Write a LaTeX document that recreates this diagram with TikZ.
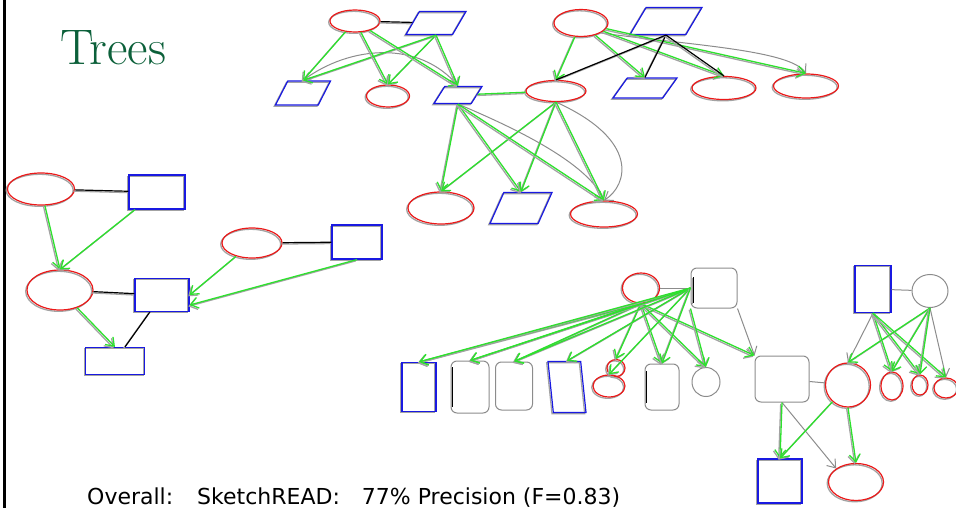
\documentclass[tikz,border=0pt]{standalone}
\usepackage{fontspec}
\usepackage{tikz}
\usetikzlibrary{shapes.geometric, arrows.meta}
\newfontfamily\notefont{DejaVu Sans}
\definecolor{titlegreen}{RGB}{12,96,58}
\definecolor{penred}{RGB}{235,25,25}
\definecolor{penblue}{RGB}{25,25,225}
\definecolor{pengreen}{RGB}{45,225,45}
\definecolor{pengray}{RGB}{140,140,140}

\tikzset{
  sketch/.style={preaction={draw=pengray!80, line width=1.3pt, transform canvas={shift={(-1.3pt,-1.3pt)}}}},
  sz/.style 2 args={minimum width=#1pt, minimum height=#2pt},
  female/.style={ellipse, draw=penred, line width=1.2pt, inner sep=0pt, sketch},
  male/.style={rectangle, draw=penblue, line width=1.2pt, inner sep=0pt, sketch},
  malepar/.style={trapezium, trapezium left angle=68, trapezium right angle=112, trapezium stretches=true, draw=penblue, line width=1.2pt, inner sep=2pt, sketch},
  unknown/.style={rectangle, rounded corners=6pt, draw=pengray, line width=1pt, inner sep=0pt},
  unknownround/.style={ellipse, draw=pengray, line width=1pt, inner sep=0pt},
  child/.style={->, draw=pengreen, line width=1.3pt, sketch},
  spouse/.style={draw=black, line width=1.2pt, sketch},
  stroke/.style={draw=pengray, line width=1pt},
}

\begin{document}
\begin{tikzpicture}[x=1pt, y=-1pt, >={Straight Barb[length=7.5pt, width=11pt]}]
  \useasboundingbox (0,0) rectangle (956,508);
  \draw[line width=3pt] (4.5,0) -- (4.5,508);
  \node[anchor=base west, font=\fontsize{50}{56}\selectfont, text=titlegreen, inner sep=0pt] (title) at (60,65) {Trees};

  % top left family
  \node[female, sz={50}{22}] (g1a) at (355,21) {};
  \node[malepar, sz={60}{23}] (g1b) at (436,23) {};
  \node[malepar, sz={55}{24}] (g1c) at (303,93) {};
  \node[female, sz={43}{22}] (g1d) at (388,96) {};
  \node[malepar, sz={48}{17}] (g1e) at (458,95) {};
  % top right family
  \node[female, sz={54}{27}] (g2a) at (581,23) {};
  \node[malepar, sz={72}{27}] (g2b) at (666,21) {};
  \node[female, sz={60}{21}] (g2f) at (556,91) {};
  \node[malepar, sz={64}{20}] (g2c) at (645,88) {};
  \node[female, sz={64}{23}] (g2d) at (724,88) {};
  \node[female, sz={65}{24}] (g2e) at (806,86) {};
  % their children
  \node[female, sz={66}{32}] (g1l) at (441,208) {};
  \node[malepar, sz={62}{31}] (g1m) at (521,208) {};
  \node[female, sz={67}{26}] (g1n) at (604,214) {};

  \draw[stroke] (g1c.north) .. controls (350,45) and (420,40) .. (g1e.north);
  \draw[stroke, ->] (g2a.south east) .. controls (690,45) and (790,50) .. (g2e.north);
  \draw[stroke, ->] (g2f.south) .. controls (640,140) and (628,185) .. (g1n.north);
  \draw[stroke] (g1e.south) .. controls (520,130) and (590,165) .. (g1n.north);

  \draw[spouse] (g1a) -- (g1b);
  \foreach \k in {g1c,g1d,g1e} {
    \draw[child] (g1a) -- (\k.north);
    \draw[child] (g1b.south) -- (\k.north);
  }
  \draw[child, -] (g1e) -- (g2f);
  \foreach \k in {g2f,g2c,g2d,g2e}
    \draw[child] (g2a) -- (\k.north);
  \foreach \k in {g2f,g2c,g2d}
    \draw[spouse] (g2b.south) -- (\k.north);
  \foreach \k in {g1l,g1m,g1n} {
    \draw[child] (g1e.south) -- (\k.north);
    \draw[child] (g2f.south) -- (\k.north);
  }

  % left family
  \node[female, sz={67}{32}] (g3a) at (41,189) {};
  \node[male, sz={56}{34}] (g3b) at (157,192) {};
  \node[female, sz={66}{40}] (g3c) at (60,290) {};
  \node[male, sz={54}{33}] (g3d) at (162,295) {};
  \node[male, sz={59}{27}] (g3e) at (115,361) {};
  \node[female, sz={60}{30}] (g3f) at (252,243) {};
  \node[male, sz={50}{34}] (g3g) at (357,242) {};

  \draw[spouse] (g3a) -- (g3b);
  \draw[spouse] (g3c) -- (g3d);
  \draw[spouse] (g3f) -- (g3g);
  \draw[spouse] (g3d) -- (g3e);
  \draw[child] (g3a) -- (g3c.north);
  \draw[child] (g3b) -- (g3c.north);
  \draw[child] (g3c) -- (g3e.north);
  \draw[child] (g3f) -- (g3d.east);
  \draw[child] (g3g.south) -- (g3d.-20);

  % big family, bottom right
  \node[female, sz={37}{30}] (g4w) at (641,288) {};
  \node[unknown, sz={46}{40}] (g4x) at (714,288) {};
  \node[male, sz={34}{49}] (c1) at (419,387) {};
  \node[unknown, sz={38}{52}] (c2) at (470,387) {};
  \node[unknown, sz={37}{48}] (c3) at (514,386) {};
  \node[malepar, trapezium left angle=101, trapezium right angle=79, sz={38}{51}] (c4) at (567,387) {};
  \node[female, sz={18}{17}] (c5a) at (616,368) {};
  \node[female, sz={32}{22}] (c5b) at (609,386) {};
  \node[unknown, sz={34}{46}] (c6) at (662,387) {};
  \node[unknownround, sz={28}{29}] (c7) at (706,382) {};
  \node[unknown, sz={54}{46}] (g4y) at (782,379) {};
  \node[female, sz={45}{44}] (g4z) at (848,385) {};
  \node[male, sz={36}{47}] (g4b) at (873,289) {};
  \node[unknownround, sz={36}{33}] (g4c) at (930,291) {};
  \node[female, sz={22}{28}] (s1) at (892,386) {};
  \node[female, sz={16}{20}] (s2) at (920,385) {};
  \node[female, sz={24}{20}] (s3) at (946,388) {};
  \node[male, sz={44}{44}] (g4d) at (780,481) {};
  \node[female, sz={55}{37}] (g4e) at (856,482) {};

  \draw[spouse] (g4x.west) ++(3,-11) -- ++(0,26);
  \draw[spouse] (c2.west) ++(2,-20) -- ++(0,40);
  \draw[spouse] (c6.west) ++(2,-16) -- ++(0,32);

  \draw[stroke] (g4w) -- (g4x);
  \draw[stroke] (g4y) -- (g4z);
  \draw[stroke] (g4b) -- (g4c);
  \draw[stroke, ->] (g4x.south east) -- (g4y.north west);
  \draw[stroke, ->] (g4x.west) -- (c4.north);
  \draw[stroke, ->] (g4y.south) -- (g4e.north west);
  \draw[stroke, ->] (g4b.south) -- (g4z.north);
  \draw[stroke, ->] (g4c.south) -- (s3.north);

  \foreach \k in {c1,c2,c3,c5a,c6,c7}
    \draw[child] (g4w.south) -- (\k.north);
  \draw[child] (g4w.south) -- (g4y.north west);
  \foreach \k in {c1,c2,c3,c4,c5b,c6}
    \draw[child] (g4x.west) -- (\k.north);
  \draw[child] (g4x.south west) -- (c7.north);
  \draw[child] (g4y.south) -- (g4d.north);
  \draw[child] (g4z) -- (g4d.north);
  \draw[child] (g4z.south) -- (g4e.north);
  \foreach \k in {s1,s2,s3}
    \draw[child] (g4b.south) -- (\k.north);
  \foreach \k in {g4z,s1,s2}
    \draw[child] (g4c.south) -- (\k.north);

  \node[anchor=base west, font=\notefont\fontsize{22}{26}\selectfont, inner sep=0pt] (score) at (87,504)
    {Overall:\hspace{24pt}SketchREAD:\hspace{22pt}77\%~Precision~(F=0.83)};
\end{tikzpicture}
\end{document}
